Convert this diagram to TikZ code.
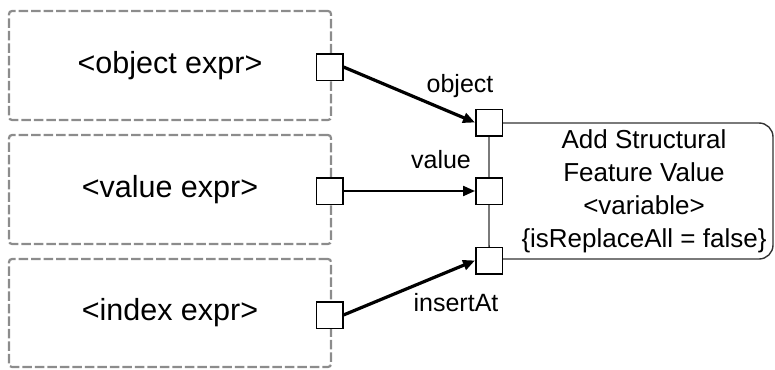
\documentclass[tikz,border=0pt]{standalone}
\usepackage{fontspec}
\setmainfont{Liberation Sans}
\usetikzlibrary{arrows.meta}
\begin{document}
\begin{tikzpicture}[x=1pt,y=-1pt,
  exprbox/.style={draw=black!45, line width=2.2pt, dash pattern=on 9.5pt off 3pt,
    rounded corners=3pt, minimum width=322pt, inner sep=0pt,
    font=\fontsize{30.5}{36}\selectfont},
  pinbox/.style={draw=black, line width=1.5pt, fill=white, minimum size=26.5pt, inner sep=0pt},
  flow/.style={line width=3.2pt, -{Triangle[length=12pt,width=10pt]}},
  flowthin/.style={line width=2.2pt, -{Triangle[length=12pt,width=10pt]}},
  pinlabel/.style={font=\fontsize{25}{30}\selectfont, inner sep=0pt},
  actionbox/.style={draw=black!80, line width=1.4pt, rounded corners=14pt,
    minimum width=284pt, minimum height=136pt, inner sep=0pt}
]
\useasboundingbox (0,0) rectangle (775,369);
% expression boxes
\node[exprbox, minimum height=109pt] (objexpr) at (170,65.5) {<object expr>};
\node[exprbox, minimum height=109pt] (valexpr) at (170,189.5) {<value expr>};
\node[exprbox, minimum height=108pt] (idxexpr) at (170,313) {<index expr>};
% action
\node[actionbox] (action) at (631,191) {};
\node[align=center, font=\fontsize{26}{33}\selectfont, inner sep=0pt] (actlabel) at (644,191)
  {Add Structural\\Feature Value\\<variable>\\\{isReplaceAll = false\}};
% output pins
\node[pinbox] (objout) at (329.5,67) {};
\node[pinbox] (valout) at (329.5,191) {};
\node[pinbox] (idxout) at (329.5,315) {};
% input pins
\node[pinbox] (objin) at (489,122.5) {};
\node[pinbox] (valin) at (489,191) {};
\node[pinbox] (idxin) at (489,260.5) {};
% flows
\draw[flow] (objout.east) -- (objin.west);
\draw[flowthin] (valout.east) -- (valin.west);
\draw[flow] (idxout.east) -- (idxin.west);
% labels
\node[pinlabel] (objlab) at (460,86) {object};
\node[pinlabel] (vallab) at (441,160) {value};
\node[pinlabel] (idxlab) at (456,303) {insertAt};
\end{tikzpicture}
\end{document}
